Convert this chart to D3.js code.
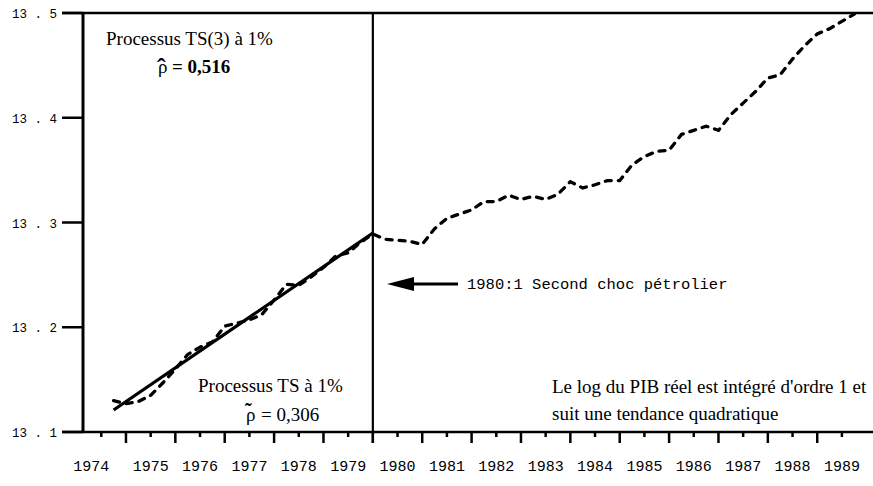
<!DOCTYPE html>
<html>
<head>
<meta charset="utf-8">
<script src="https://cdn.jsdelivr.net/npm/d3@7"></script>
<style>
  body { margin: 0; background: #fff; }
  .serif { font-family: "Liberation Serif", "Times New Roman", serif; font-size: 19px; fill: #000; }
  .mono { font-family: "Liberation Mono", "Courier New", monospace; fill: #000; }
</style>
</head>
<body>
<div id="chart"></div>
<script>
// Quarterly log of real GDP, 1974:4 -> 1989:4
var firstPeriod = 1974.75;
var logGdp = [
    13.130, 13.127, 13.129, 13.135, 13.147, 13.160, 13.174, 13.181, 13.186, 13.201,
    13.204, 13.207, 13.212, 13.226, 13.241, 13.240, 13.248, 13.257, 13.268, 13.271,
    13.281,
    13.289, 13.284, 13.283, 13.282, 13.279, 13.294, 13.304, 13.308, 13.312, 13.320,
    13.320, 13.326, 13.322, 13.325, 13.322, 13.327, 13.339, 13.333, 13.336, 13.340,
    13.340, 13.355, 13.363, 13.368, 13.369, 13.384, 13.388, 13.392, 13.388, 13.403,
    13.414, 13.425, 13.438, 13.441, 13.456, 13.469, 13.480, 13.485, 13.492, 13.499
];
// fitted linear trend (TS process) on 1974:4 - 1980:1
var trendPeriods = [1974.75, 1980];
var trendValues = [13.121, 13.290];

var yearLabels = [1974, 1975, 1976, 1977, 1978, 1979, 1980, 1981, 1982, 1983, 1984, 1985, 1986, 1987, 1988, 1989];
var majorTicks = [1975, 1976, 1977, 1978, 1979, 1980, 1981, 1982, 1983, 1984, 1985, 1986, 1987, 1988, 1989];
var minorTicks = [1974.5, 1975.5, 1976.5, 1977.5, 1978.5, 1979.5, 1980.5, 1981.5, 1982.5, 1983.5, 1984.5, 1985.5, 1986.5, 1987.5, 1988.5, 1989.5];
var yTicks = [13.1, 13.2, 13.3, 13.4, 13.5];
var yTickLabels = ["13 . 1", "13 . 2", "13 . 3", "13 . 4", "13 . 5"];
var breakPeriod = 1980;

var svgWidth = 873;
var svgHeight = 486;

var svg = d3.select("#chart")
    .append("svg")
    .attr("width", svgWidth)
    .attr("height", svgHeight);

var plotLeft = 83, plotTop = 13, plotBottom = 432;

var x = d3.scaleLinear().domain([1974.15, 1990.15]).range([plotLeft + 1, 874]);
var y = d3.scaleLinear().domain([13.1, 13.5]).range([plotBottom, plotTop]);

var data = logGdp.map(function(v, i) {
    return { t: firstPeriod + i * 0.25, v: v };
});

// frame: top border, left axis, bottom axis
svg.append("line")
    .attr("x1", 62).attr("x2", svgWidth)
    .attr("y1", y(13.5)).attr("y2", y(13.5))
    .attr("stroke", "#000").attr("stroke-width", 2.5);

svg.append("line")
    .attr("x1", plotLeft).attr("x2", plotLeft)
    .attr("y1", plotTop).attr("y2", plotBottom)
    .attr("stroke", "#000").attr("stroke-width", 3);

svg.append("line")
    .attr("x1", 62).attr("x2", svgWidth)
    .attr("y1", plotBottom).attr("y2", plotBottom)
    .attr("stroke", "#000").attr("stroke-width", 2.5);

// y ticks and labels
svg.append("g").selectAll("line")
    .data(yTicks)
    .enter()
    .append("line")
    .attr("x1", 62).attr("x2", plotLeft)
    .attr("y1", d => y(d)).attr("y2", d => y(d))
    .attr("stroke", "#000").attr("stroke-width", 2.5);

svg.append("g").selectAll("text")
    .data(yTicks)
    .enter()
    .append("text")
    .attr("class", "mono")
    .attr("x", 57)
    .attr("y", d => y(d) + 5)
    .attr("text-anchor", "end")
    .style("font-size", "12.5px")
    .text((d, i) => yTickLabels[i]);

// x ticks
svg.append("g").selectAll("line")
    .data(majorTicks)
    .enter()
    .append("line")
    .attr("x1", d => x(d)).attr("x2", d => x(d))
    .attr("y1", plotBottom).attr("y2", plotBottom + 11)
    .attr("stroke", "#000").attr("stroke-width", 2.5);

svg.append("g").selectAll("line")
    .data(minorTicks)
    .enter()
    .append("line")
    .attr("x1", d => x(d)).attr("x2", d => x(d))
    .attr("y1", plotBottom).attr("y2", plotBottom + 5)
    .attr("stroke", "#000").attr("stroke-width", 2.5);

svg.append("g").selectAll("text")
    .data(yearLabels)
    .enter()
    .append("text")
    .attr("class", "mono")
    .attr("x", (d, i) => x(d + 0.5) - (i === 0 ? 10 : 0))
    .attr("y", 471)
    .attr("text-anchor", "middle")
    .style("font-size", "15px")
    .text(d => d);

// vertical break line at 1980:1
svg.append("line")
    .attr("x1", x(breakPeriod)).attr("x2", x(breakPeriod))
    .attr("y1", plotTop).attr("y2", plotBottom + 11)
    .attr("stroke", "#000").attr("stroke-width", 2.2);

// series
var line = d3.line()
    .x(d => x(d.t))
    .y(d => y(d.v));

svg.append("path")
    .datum(data)
    .attr("d", line)
    .attr("fill", "none")
    .attr("stroke", "#000")
    .attr("stroke-width", 3.3)
    .attr("stroke-dasharray", "6,7")
    .attr("stroke-linecap", "round");

svg.append("path")
    .datum(trendPeriods.map((t, i) => ({ t: t, v: trendValues[i] })))
    .attr("d", line)
    .attr("fill", "none")
    .attr("stroke", "#000")
    .attr("stroke-width", 3.2);

// annotations
svg.append("text").attr("class", "serif")
    .attr("x", 106).attr("y", 45)
    .text("Processus TS(3) à 1%");

// rho hat = 0,516 (accent drawn as a tspan above the rho)
var rhoHat = svg.append("text").attr("class", "serif");
rhoHat.append("tspan").attr("x", 158).attr("y", 73).text("ρ");
rhoHat.append("tspan").attr("x", 157).attr("y", 76)
    .style("font-size", "26px").style("font-weight", "bold").text("ˆ");
rhoHat.append("tspan").attr("x", 172).attr("y", 73)
    .style("font-weight", "bold").text("= 0,516");

svg.append("text").attr("class", "serif")
    .attr("x", 198).attr("y", 392)
    .text("Processus TS à 1%");

var rhoTilde = svg.append("text").attr("class", "serif");
rhoTilde.append("tspan").attr("x", 246).attr("y", 421).text("ρ");
rhoTilde.append("tspan").attr("x", 245).attr("y", 418)
    .style("font-size", "20px").style("font-weight", "bold").text("˜");
rhoTilde.append("tspan").attr("x", 261).attr("y", 421).text("= 0,306");

svg.append("text").attr("class", "serif")
    .attr("x", 552).attr("y", 393)
    .text("Le log du PIB réel est intégré d'ordre 1 et");
svg.append("text").attr("class", "serif")
    .attr("x", 552).attr("y", 420)
    .text("suit une tendance quadratique");

// arrow pointing at the break
var arrowY = 284;
svg.append("line")
    .attr("x1", 410).attr("x2", 458)
    .attr("y1", arrowY).attr("y2", arrowY)
    .attr("stroke", "#000").attr("stroke-width", 3);
svg.append("path")
    .attr("d", `M387,${arrowY} L414,${arrowY - 7} L414,${arrowY + 7} Z`)
    .attr("fill", "#000");

svg.append("text").attr("class", "mono")
    .attr("x", 467).attr("y", 289)
    .style("font-size", "15.5px")
    .text("1980:1 Second choc pétrolier");
</script>
</body>
</html>
